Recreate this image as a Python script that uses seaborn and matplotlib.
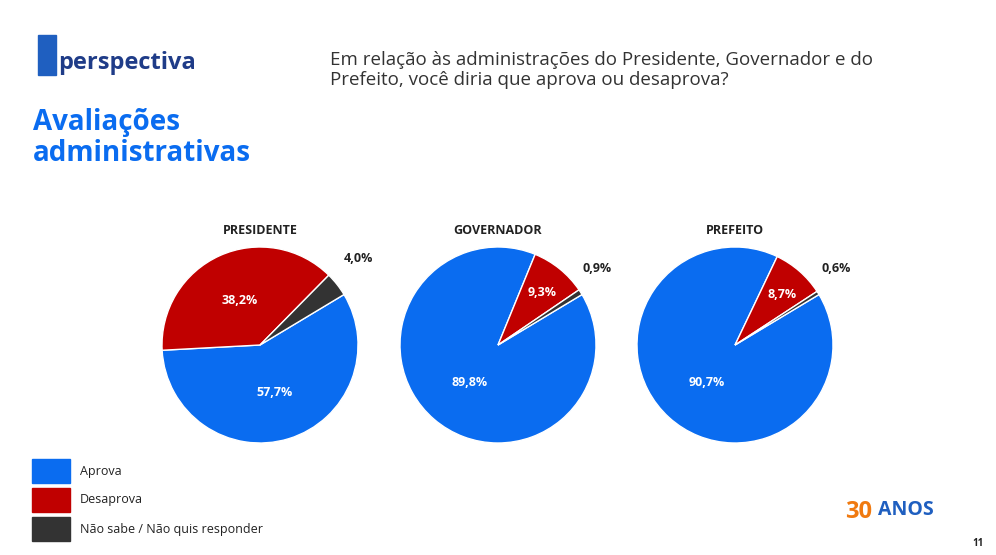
import matplotlib
matplotlib.use("Agg")
import matplotlib.pyplot as plt
import seaborn as sns

sns.set_theme(style="white")
plt.rcParams['font.family'] = ['Open Sans', 'DejaVu Sans']

titles = ["PRESIDENTE", "GOVERNADOR", "PREFEITO"]
categories = ["Aprova", "Desaprova", "Não sabe / Não quis responder"]
aprova = [57.7, 89.8, 90.7]
desaprova = [38.2, 9.3, 8.7]
nsnr = [4.0, 0.9, 0.6]
colors = ["#0A6CF0", "#C00000", "#333333"]

W, H = 996, 555
fig = plt.figure(figsize=(W/100, H/100), dpi=100)
fig.patch.set_facecolor("white")

centers = [260, 498, 735]
cy = 345
r = 98
for i, cx in enumerate(centers):
    ax = fig.add_axes([(cx - r)/W, 1 - (cy + r)/H, 2*r/W, 2*r/H])
    vals = [aprova[i], desaprova[i], nsnr[i]]
    ax.pie(vals, colors=colors, startangle=31, counterclock=False,
           wedgeprops=dict(edgecolor="white", linewidth=1), radius=1)
    ax.set_xlim(-1, 1); ax.set_ylim(-1, 1)
    ax.set_aspect("equal")
    ax.axis("off")
    fig.text(cx/W, 1 - 230/H, titles[i], ha="center", va="center",
             fontsize=9, fontweight="bold", color="#222222")
lab = [
    [(275, 392, "white"), (240, 301, "white"), (358, 258, "#222222")],
    [(470, 383, "white"), (542, 292, "white"), (597, 268, "#222222")],
    [(707, 383, "white"), (782, 294, "white"), (836, 268, "#222222")],
]
for i in range(3):
    vals = [aprova[i], desaprova[i], nsnr[i]]
    for j, (x, y, c) in enumerate(lab[i]):
        fig.text(x/W, 1 - y/H, f"{vals[j]:.1f}%".replace(".", ","), ha="center",
                 va="center", fontsize=9, fontweight="bold", color=c)

fig.text(330/W, 1 - 70/H, "Em relação às administrações do Presidente, Governador e do\nPrefeito, você diria que aprova ou desaprova?",
         ha="left", va="center", fontsize=13.5, color="#333333", linespacing=1.2)
fig.text(33/W, 1 - 138/H, "Avaliações\nadministrativas", ha="left", va="center",
         fontsize=20, fontweight="bold", color="#0A6CF0", linespacing=1.05)
fig.text(58/W, 1 - 63/H, "perspectiva", ha="left", va="center", fontsize=17,
         fontweight="bold", color="#1F3C88")
fig.patches.append(plt.Rectangle((38/W, 1 - 75/H), 18/W, 40/H,
                   transform=fig.transFigure, color="#1F5FC0"))

for k, cat in enumerate(categories):
    y = 471 + k*29
    fig.patches.append(plt.Rectangle((32/W, 1 - (y + 12)/H), 38/W, 24/H,
                       transform=fig.transFigure, color=colors[k]))
    fig.text(80/W, 1 - y/H, cat, ha="left", va="center", fontsize=9, color="#222222")

fig.text(845/W, 1 - 512/H, "30", ha="left", va="center", fontsize=17,
         fontweight="bold", color="#F07A10")
fig.text(878/W, 1 - 510/H, "ANOS", ha="left", va="center", fontsize=14,
         fontweight="bold", color="#1F5FC0")
fig.text(978/W, 1 - 543/H, "11", ha="center", va="center", fontsize=7,
         fontweight="bold", color="#222222")

fig.savefig("out.png", dpi=100)
